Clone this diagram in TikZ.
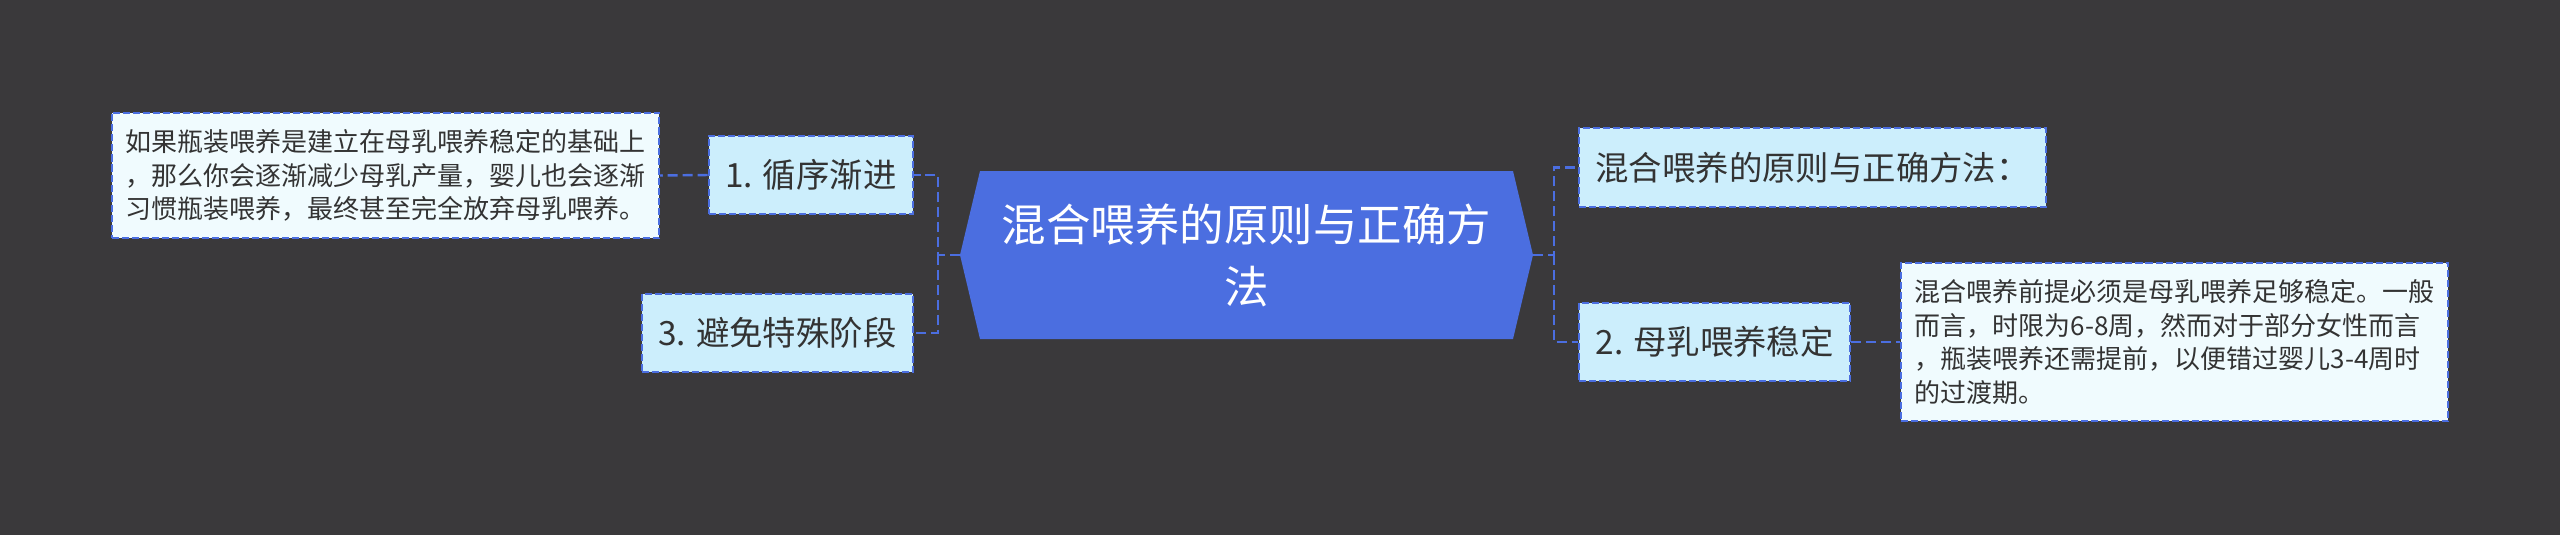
\documentclass[tikz,border=0pt]{standalone}
\usepackage{fontspec}
\newfontfamily\cjkfont{Noto Sans CJK SC}
\usetikzlibrary{calc}
\definecolor{bgdark}{HTML}{3A393B}
\definecolor{topicblue}{HTML}{4B6EE0}
\definecolor{boxblue}{HTML}{CCEEFC}
\definecolor{leafblue}{HTML}{F0FBFE}
\definecolor{textdark}{HTML}{333333}
\tikzset{
    my-topic/.style={
        fill=topicblue
    },
    my-topic-text/.style={
        text=white, align=center, font=\cjkfont\fontsize{25.3}{35.2}\selectfont
    },
    my-branch/.style={
        draw=topicblue, fill=boxblue, line width=1.2pt, dash pattern=on 4pt off 1.7pt,
        text=textdark, font=\cjkfont\fontsize{19}{23}\selectfont,
        inner xsep=0.33cm, minimum height=1.57cm
    },
    my-leaf/.style={
        draw=topicblue, fill=leafblue, line width=1.2pt, dash pattern=on 4pt off 1.7pt,
        text=textdark, align=left, font=\cjkfont\fontsize{14.8}{19.07}\selectfont,
        inner xsep=0.27cm, inner ysep=0.34cm
    },
    my-link/.style={
        draw=topicblue, line width=1.4pt, dash pattern=on 5.7pt off 2.8pt
    },
}

\begin{document}
\begin{tikzpicture}

        % BACKGROUND
        \useasboundingbox (0,0) rectangle (51.2,10.7);
        \fill[bgdark] (0,0) rectangle (51.2,10.7);

        % MAIN TOPIC
        \coordinate[]  (MAIN)  at (24.93,5.6);
        \fill[my-topic] ($(MAIN) + (-5.33, 1.68)$) -- ($(MAIN) + (5.33, 1.68)$)
            -- ($(MAIN) + (5.73, 0)$) -- ($(MAIN) + (5.33, -1.68)$)
            -- ($(MAIN) + (-5.33, -1.68)$) -- ($(MAIN) + (-5.73, 0)$) -- cycle;
        \node[my-topic-text] (MAINTXT) at (MAIN) {混合喂养的原则与正确方\\法};
        \coordinate[]  (MAINW) at ($(MAIN) + (-5.73, 0)$);
        \coordinate[]  (MAINE) at ($(MAIN) + (5.73, 0)$);

        % LEFT BRANCHES
        \node[my-branch, anchor=east]  (STEP1)  at (18.28,7.2)   {1. 循序渐进};
        \node[my-branch, anchor=east]  (STEP3)  at (18.28,4.04)  {3. 避免特殊阶段};
        \node[my-leaf, anchor=east]    (LEAF1)  at (13.2,7.19)
            {如果瓶装喂养是建立在母乳喂养稳定的基础上\\，那么你会逐渐减少母乳产量，婴儿也会逐渐\\习惯瓶装喂养，最终甚至完全放弃母乳喂养。};

        % RIGHT BRANCHES
        \node[my-branch, anchor=west]  (INTRO)  at (31.56,7.35)  {混合喂养的原则与正确方法：};
        \node[my-branch, anchor=west]  (STEP2)  at (31.56,3.86)  {2. 母乳喂养稳定};
        \node[my-leaf, anchor=west]    (LEAF2)  at (38.0,3.86)
            {混合喂养前提必须是母乳喂养足够稳定。一般\\而言，时限为6-8周，然而对于部分女性而言\\，瓶装喂养还需提前，以便错过婴儿3-4周时\\的过渡期。};

        % TRUNK POINTS
        \coordinate[]  (LTRUNK) at (18.76,5.6);
        \coordinate[]  (RTRUNK) at (31.08,5.6);

        % LEFT CONNECTIONS
        \draw[my-link] (MAINW) -- (LTRUNK) |- (STEP1.east);
        \draw[my-link] (LTRUNK) |- (STEP3.east);
        \draw[my-link] (STEP1.west) -- (LEAF1.east);

        % RIGHT CONNECTIONS
        \draw[my-link] (MAINE) -- (RTRUNK) |- (INTRO.west);
        \draw[my-link] (RTRUNK) |- (STEP2.west);
        \draw[my-link] (STEP2.east) -- (LEAF2.west);

    \end{tikzpicture}
\end{document}
